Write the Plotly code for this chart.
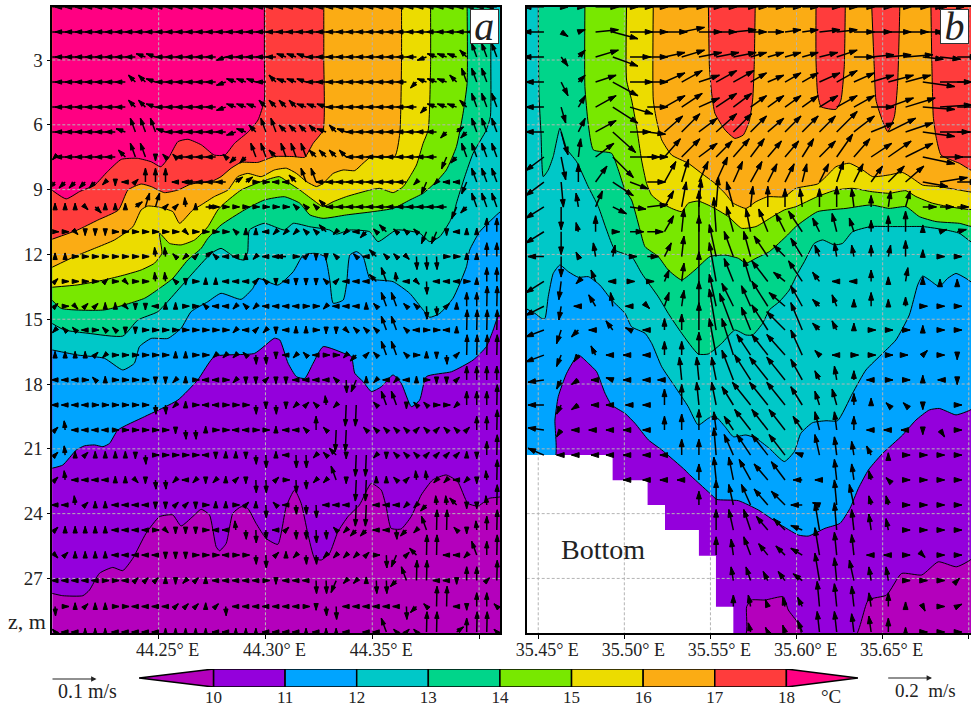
import math
import plotly.graph_objects as go

W_PX, H_PX = 971, 708
# ---------- axes ranges / ticks
Z_TOP, Z_BOT = 0.56, 29.54
A_RANGE = [44.2002, 44.4098]
B_RANGE = [35.4433, 35.7013]
Z_TICKS = [3, 6, 9, 12, 15, 18, 21, 24, 27]
A_TICKS = [44.25, 44.30, 44.35, 44.40]
A_LABELS = ["44.25° E", "44.30° E", "44.35° E", ""]
B_TICKS = [35.45, 35.50, 35.55, 35.60, 35.65, 35.70]
B_LABELS = ["35.45° E", "35.50° E", "35.55° E", "35.60° E", "35.65° E", ""]
LABEL_PAD = "\u00a0\u00a0\u00a0\u00a0"

TEMPS = [10, 11, 12, 13, 14, 15, 16, 17, 18]
COLORS = {9: "#b400bc", 10: "#9400dc", 11: "#00a4ff", 12: "#00c8c8", 13: "#00d58a",
          14: "#78e800", 15: "#ecdc00", 16: "#fbac14", 17: "#ff3c3c", 18: "#ff0082"}

# ---------- isotherms, panel a (lon, z)
A10 = [(44.2,27.69),(44.2051,27.8),(44.2145,27.8),(44.2176,27.54),(44.2223,26.76),(44.2285,26.49),(44.2332,26.64),(44.2379,26.07),(44.2441,24.91),(44.2504,24.14),(44.2566,24.06),(44.2605,24.57),(44.2659,24.14),(44.2699,23.8),(44.2738,24.06),(44.2769,25.53),(44.2785,25.72),(44.2816,25.38),(44.2847,23.99),(44.2886,23.68),(44.2917,23.76),(44.2956,24.45),(44.3003,25.15),(44.3058,25.42),(44.3097,23.68),(44.3136,22.91),(44.3167,23.52),(44.3198,24.91),(44.323,26.07),(44.3261,26.15),(44.33,25.84),(44.3339,24.84),(44.3386,24.14),(44.344,23.6),(44.3495,22.6),(44.3542,22.91),(44.3565,23.68),(44.3588,24.68),(44.3635,24.71),(44.3682,24.14),(44.3729,23.14),(44.3783,22.44),(44.3846,22.21),(44.39,22.52),(44.3947,23.52),(44.3994,23.65),(44.4049,23.29),(44.412,23.14)]
A11 = [(44.2,21.9),(44.2051,21.75),(44.2114,21.06),(44.2153,20.86),(44.22,20.82),(44.2239,20.9),(44.227,20.75),(44.2309,20.13),(44.2434,19.51),(44.259,18.74),(44.2683,17.81),(44.2761,16.73),(44.2949,16.58),(44.3042,15.88),(44.3067,15.96),(44.3106,17.04),(44.3145,17.66),(44.3184,17.74),(44.3223,17.04),(44.327,16.27),(44.3387,16.66),(44.3403,16.73),(44.3418,17.5),(44.3457,17.89),(44.3496,18.35),(44.3543,18.12),(44.3597,17.58),(44.3636,17.97),(44.3683,19.05),(44.3722,18.74),(44.3753,17.66),(44.3871,17.43),(44.3972,16.89),(44.4034,16.27),(44.4066,15.5),(44.4089,14.88),(44.412,14.7)]
A12 = [(44.2,16.42),(44.2122,16.66),(44.2246,16.81),(44.2332,17.35),(44.2386,17.04),(44.241,16.27),(44.2465,15.89),(44.2543,15.89),(44.2605,15.42),(44.2652,14.65),(44.273,14.19),(44.2792,13.8),(44.2886,14.08),(44.2941,13.57),(44.2964,13.11),(44.3058,13.42),(44.313,12.8),(44.3177,12.03),(44.3231,11.95),(44.3278,12.1),(44.3301,13.18),(44.3317,14.26),(44.3364,14.11),(44.338,13.34),(44.3395,12.03),(44.3426,11.87),(44.3457,12.1),(44.3488,13.11),(44.352,13.18),(44.3597,13.26),(44.3675,13.8),(44.3738,14.57),(44.3769,14.91),(44.3816,14.73),(44.3878,14.03),(44.3941,12.57),(44.3956,11.8),(44.4003,10.95),(44.4081,10.18),(44.412,9.8)]
A13 = [(44.2,15.19),(44.2059,15.5),(44.2169,15.65),(44.2332,15.78),(44.2402,15.04),(44.2496,14.65),(44.259,13.65),(44.2652,12.95),(44.2746,11.95),(44.2792,11.72),(44.2863,12.18),(44.2902,12.26),(44.2917,11.87),(44.2925,10.87),(44.2995,10.56),(44.3089,10.87),(44.313,10.56),(44.3208,10.72),(44.3301,10.87),(44.3332,11.06),(44.3395,10.87),(44.3488,10.95),(44.3527,11.41),(44.3613,10.87),(44.3722,11.02),(44.3769,11.41),(44.3816,11.18),(44.3863,10.48),(44.3886,9.94),(44.3894,9.63),(44.3933,8.4),(44.3972,7.32),(44.4034,6.24),(44.4053,5.62),(44.4055,3.0),(44.4055,0.4)]
A14 = [(44.2,14.11),(44.2044,14.5),(44.2246,14.57),(44.2434,14.03),(44.2504,13.57),(44.2566,13.11),(44.2636,12.26),(44.2699,11.72),(44.273,11.26),(44.2792,10.64),(44.2902,9.94),(44.2995,9.48),(44.3089,9.33),(44.3161,9.63),(44.3208,10.17),(44.327,10.33),(44.338,10.17),(44.3504,10.02),(44.3598,9.87),(44.3676,9.48),(44.3738,9.17),(44.38,8.63),(44.3847,8.09),(44.3894,7.01),(44.3925,5.47),(44.3944,4.08),(44.3944,0.4)]
A15 = [(44.2,13.52),(44.2122,13.41),(44.2246,13.18),(44.234,12.95),(44.2418,12.72),(44.248,12.41),(44.2515,11.95),(44.2504,11.02),(44.2551,11.49),(44.2605,11.56),(44.2668,11.33),(44.273,10.72),(44.2777,9.94),(44.2808,9.63),(44.2886,9.02),(44.298,8.63),(44.3065,8.4),(44.3114,8.71),(44.3161,9.02),(44.3223,9.48),(44.327,9.79),(44.3317,9.56),(44.338,9.32),(44.3489,9.02),(44.3535,8.94),(44.3598,9.14),(44.3645,8.86),(44.3676,8.4),(44.3707,7.86),(44.3738,6.86),(44.3762,6.24),(44.3773,3.31),(44.3773,0.4)]
A16 = [(44.2,12.6),(44.2106,12.1),(44.22,11.72),(44.2293,11.33),(44.2379,10.72),(44.2418,9.94),(44.2449,9.76),(44.2504,9.82),(44.2566,10.02),(44.2598,10.56),(44.266,9.94),(44.2699,9.71),(44.2761,9.32),(44.2824,9.02),(44.287,8.4),(44.2917,8.25),(44.298,8.4),(44.3042,8.09),(44.3098,8.01),(44.3145,8.25),(44.3192,8.63),(44.3239,8.86),(44.327,8.71),(44.3317,8.25),(44.3364,8.09),(44.3418,8.12),(44.3457,7.78),(44.3496,7.47),(44.3605,7.47),(44.3629,6.39),(44.3637,3.0),(44.3637,0.4)]
A17 = [(44.2,11.3),(44.212,10.87),(44.2215,10.41),(44.2312,9.94),(44.2356,9.02),(44.2418,8.74),(44.2465,8.86),(44.2527,9.14),(44.259,9.02),(44.2652,8.74),(44.2746,8.63),(44.2792,8.4),(44.2839,8.01),(44.2886,7.74),(44.2964,7.74),(44.3042,7.47),(44.313,7.47),(44.3184,7.5),(44.3223,6.86),(44.327,6.24),(44.3273,3.0),(44.3273,0.4)]
A18 = [(44.2,9.02),(44.2067,9.43),(44.213,9.09),(44.22,8.79),(44.226,8.17),(44.2325,7.6),(44.24,7.55),(44.2465,7.71),(44.251,7.94),(44.255,7.47),(44.259,6.78),(44.2637,6.67),(44.27,6.93),(44.276,7.4),(44.281,7.4),(44.2855,6.86),(44.292,6.32),(44.2965,5.78),(44.2995,4.85),(44.2995,3.0),(44.2995,0.4)]

# ---------- isotherms, panel b (lon, z)
B10 = [(35.44,29.7),(35.57,29.7),(35.571,28.31),(35.5739,28.0),(35.5817,28.0),(35.5923,27.85),(35.5952,28.46),(35.601,29.08),(35.6039,29.7),(35.6339,29.7),(35.6417,28.0),(35.6523,27.77),(35.661,26.77),(35.6727,26.84),(35.6823,26.23),(35.693,26.46),(35.705,25.84)]
B11 = [(35.44,21.4),(35.4597,21.4),(35.4597,19.67),(35.4616,18.59),(35.4665,17.5),(35.4733,16.66),(35.4791,17.04),(35.4839,17.43),(35.4888,18.43),(35.4926,18.97),(35.5004,19.36),(35.5062,19.82),(35.514,20.59),(35.5217,21.05),(35.5352,21.98),(35.5371,22.14),(35.5497,23.06),(35.5536,23.34),(35.5662,23.4),(35.5778,23.83),(35.5894,24.45),(35.601,24.99),(35.6068,25.04),(35.6165,24.68),(35.6252,24.45),(35.631,23.76),(35.6359,22.83),(35.6417,21.98),(35.6456,21.6),(35.65,21.21),(35.6616,20.36),(35.6693,19.67),(35.6771,19.2),(35.6829,19.13),(35.6877,19.28),(35.6926,19.43),(35.705,18.97)]
B12 = [(35.44,14.39),(35.4481,14.73),(35.452,14.96),(35.4539,14.96),(35.4558,13.96),(35.4587,12.88),(35.4626,12.49),(35.4675,12.8),(35.4733,13.06),(35.4791,13.03),(35.4858,13.42),(35.4926,14.11),(35.5004,14.73),(35.5042,15.35),(35.512,15.65),(35.5159,16.12),(35.5217,17.2),(35.5294,18.12),(35.5371,19.05),(35.5429,19.9),(35.5487,19.59),(35.5526,19.48),(35.5584,19.97),(35.5633,20.44),(35.5706,20.36),(35.5764,20.51),(35.5842,20.98),(35.5929,21.59),(35.5987,21.13),(35.6025,20.28),(35.6093,19.79),(35.6171,19.7),(35.6238,19.7),(35.6325,18.43),(35.6403,17.35),(35.65,16.58),(35.6577,15.96),(35.6655,14.8),(35.6703,13.42),(35.6732,13.0),(35.6771,13.18),(35.6829,13.49),(35.6877,13.11),(35.6926,12.88),(35.6984,13.11),(35.705,13.42)]
B13 = [(35.45,0.4),(35.4504,4.54),(35.4516,6.39),(35.4529,8.4),(35.4558,8.09),(35.4587,7.47),(35.4626,6.16),(35.4655,7.01),(35.4723,7.71),(35.479,8.86),(35.4849,9.79),(35.4897,10.87),(35.4946,11.8),(35.5042,12.1),(35.5101,12.88),(35.5197,13.96),(35.5255,14.73),(35.5333,15.65),(35.5429,16.61),(35.5487,16.61),(35.5565,16.12),(35.5642,15.5),(35.5706,15.73),(35.5745,15.73),(35.5803,15.19),(35.5842,14.57),(35.59,14.19),(35.5958,13.65),(35.6006,12.88),(35.6045,12.34),(35.6103,11.49),(35.6151,11.33),(35.6219,11.56),(35.6267,11.49),(35.6325,10.95),(35.6432,10.71),(35.6538,10.71),(35.6635,10.71),(35.6732,10.71),(35.6868,10.87),(35.6945,11.02),(35.705,11.56)]
B14 = [(35.4771,0.4),(35.4771,4.23),(35.479,5.93),(35.482,7.16),(35.4926,7.32),(35.4965,8.09),(35.5004,9.02),(35.5042,9.48),(35.5091,10.87),(35.512,11.64),(35.5197,12.1),(35.5255,12.72),(35.5333,13.18),(35.541,12.72),(35.5497,12.1),(35.5584,12.03),(35.5662,12.18),(35.5706,12.41),(35.5764,12.18),(35.5842,11.87),(35.5948,11.1),(35.5996,10.71),(35.6122,10.02),(35.6287,9.87),(35.6432,9.71),(35.6538,9.87),(35.6635,9.79),(35.6713,10.25),(35.681,10.48),(35.6945,10.56),(35.705,10.71)]
B15 = [(35.5013,0.4),(35.5013,3.93),(35.5042,4.85),(35.5071,6.09),(35.51,7.63),(35.5129,8.71),(35.5158,9.25),(35.5217,9.63),(35.5275,9.87),(35.5333,10.02),(35.5371,9.63),(35.5429,9.53),(35.5507,9.79),(35.5604,10.25),(35.5681,10.79),(35.5764,10.71),(35.5861,10.25),(35.5929,9.94),(35.5996,9.79),(35.6122,9.32),(35.6229,9.02),(35.6325,8.94),(35.6432,9.09),(35.6538,9.17),(35.6635,9.05),(35.6693,9.32),(35.679,9.63),(35.6887,9.79),(35.705,9.87)]
B16 = [(35.5168,0.4),(35.5168,4.85),(35.5187,5.78),(35.5217,6.7),(35.5275,7.4),(35.5371,7.78),(35.5449,8.25),(35.5526,8.71),(35.5584,9.17),(35.5633,9.63),(35.5706,9.87),(35.5764,9.56),(35.5832,9.33),(35.5929,9.33),(35.5996,8.94),(35.6122,8.74),(35.6171,8.4),(35.6229,7.94),(35.6306,7.78),(35.6384,8.09),(35.6442,8.4),(35.6538,8.32),(35.6616,8.21),(35.6674,8.48),(35.6732,8.79),(35.6829,8.86),(35.6945,9.02),(35.705,9.09)]
B17_1 = [(35.5488,0.4),(35.5494,3.31),(35.5507,4.54),(35.5526,5.47),(35.5585,6.24),(35.5642,6.63),(35.5691,6.47),(35.5725,5.85),(35.5745,4.85),(35.5754,3.31),(35.576,0.4)]
B17_2 = [(35.6113,0.4),(35.6113,3.0),(35.6122,4.54),(35.6142,5.16),(35.6229,5.28),(35.6258,4.85),(35.6277,3.31),(35.6283,0.4)]
B17_3 = [(35.6436,0.4),(35.6451,3.31),(35.6461,4.85),(35.649,5.62),(35.6529,6.32),(35.6568,5.62),(35.6587,4.08),(35.66,0.4)]
B17_4 = [(35.678,0.4),(35.6786,3.31),(35.6794,5.62),(35.681,6.55),(35.6839,7.4),(35.6945,7.78),(35.705,8.2)]

BOTTOM_LON = [35.44, 35.4932, 35.4932, 35.5135, 35.5135, 35.5236, 35.5236, 35.5433, 35.5433, 35.5532, 35.5532, 35.5633, 35.5633, 35.44]
BOTTOM_Z = [21.29, 21.29, 22.45, 22.45, 23.6, 23.6, 24.76, 24.76, 25.95, 25.95, 28.31, 28.31, 29.7, 29.7]

# ---------- velocity grid
ROW_Z = [0.55, 1.7, 2.86, 4.02, 5.18, 6.33, 7.49, 8.65, 9.8, 10.95, 12.1, 13.25, 14.4, 15.5, 16.66, 17.81, 18.97, 20.13, 21.29, 22.44, 23.6, 24.76, 25.92, 27.1, 28.3, 29.48]
A_COL0, A_COLSTEP = 44.2015, 0.0047
B_COL0, B_COLSTEP = 35.4433, 0.01

# Panel a: code -> (u, w) in mm/s
A_CODES = {'<':(-8,0),'>':(8,0),'^':(0,8),'v':(0,-8),'q':(-6,6),'p':(6,6),'b':(-6,-6),'d':(6,-6),
           'l':(-22,0),'r':(22,0),'h':(-20,7),'j':(-20,-7),'u':(-2,20),'n':(1,-20),'w':(-15,15),'e':(15,11),
           'z':(-13,-13),'c':(13,-13),'U':(0,30),'N':(1,-28),'W':(-11,30),'E':(9,30),'Z':(-11,-26),
           'T':(1,44),'V':(-2,-46)}
A_ROWS = [
 "lllllllllllllllllllllllllllllllllllllllllllll",
 "lllllllllllllllllllllllllllllllllllllllllllll",
 "lllllllllhhlllllljlllllhhhllllllllllljhhhwWWW",
 "llllllllwwhlllllljhhhlwhhhllllllllllzhhhwWWW",
 "llllllllwwhlllllljhhhwwwwhhhlllllllllzhhhwWWW",
 "lllllllhWWWhlllllljhwWWwwwwhwhlllllllllzezWWWW",
 "bllllllwWWvqqllllqzzWWwWWWwwwwlllllllllZzWWWWW",
 "zzzzzbv<pUUU<<llllee>><<wWWlllllllllbZb<<ZWWW",
 "^^^dc^^^eEEppu^r>>>>>>>>qqqwllllllllllllZzWWW",
 ">>dvvv>>>>>>>d>>>>q^^<bbbqqwbb<zqwqqqZZv<^^UU",
 "^^>>>>>>>>uuqbpeq<<^b<<l>pvvq.q<wqqdNNN>>^^UU",
 "p>>>>p>d>>uuqv>^^<<<pqv<vvvqp<<<wWu<dN<<<>^UU",
 "p>dpp^^dvv<^^>>q<<bqb<<<<>>b<<<^qWWqqNnp^UUTT",
 "bqq<>qqvv>>>>>>>>>b<pbv<^^>vvdqqqWWq<>><^TTTT",
 "^^^^pb>>>>>>^^>>bbbqnnv<bq<>>bzpqWWq>^vnpTTTT",
 "<<<>q^>>>>vvb^><<>bvvpvv<<<<qNZ^b<b<^>vvpUUUU",
 "<<<<>>>>>>nnb^><<>>>nvnvbpqubVV.qWWvqq>>bUUUT",
 "pu<<<<>>>>>>vnn^>><<>>^<<qUqVV.qqqqqpqpqqpUUT",
 "pu^p^^^^vn>>>>><v^^vnN^<NNbqwvVVbvqqqpppp^vUT",
 "pu<<<<^^dvnnb<bvb^pvNNp>NnbbWvVV^^qpuubb<bvuT",
 "<<up^^<<<<vvppv>^^>p^Nq<nnN<<<VV<<<bbzuuwvvuT",
 "p^^^^^<<<<>dvvv><<unNn<pnnNnqbzz<<nzbWTTqvuUT",
 "dp^^^^<<<<<vvv>>><>>nNp^bnnbbbbp>NZpwTT<<bWUT",
 "<<<<<>><ppp^vbp^<<<<<>v<<<NNZbb^NNzWTT<<vUUpT",
 "n>^p^^>><<<<ppp^pn<<<<<<<>vnN<<<<<<NzqTT<vUUq",
 "q<<^^^<<<<<^^^^^<<^^^<<<<^<^^<.<<WqpqTT.eUTTq",
]

# Panel b: u and w in cm/s for each grid node, row by row
B_U = [
 [0,-9,3,3,10,11,10,9,10,10,10,9,10,7,7,7,7,9,9,9,9,10,10,9,3,3],
 [0,-9,3,3,10,11,10,9,10,10,10,9,10,7,7,7,7,9,9,9,9,10,10,9,3,3],
 [0,-9,3,3,10,11,9,9,9,10,10,10,10,7,7,7,7,8,9,9,10,10,12,9,9,9],
 [0,-8,3,3,9,11,10,9,9,9,9,9,9,7,7,7,7,9,9,9,10,11,11,14,14,10],
 [0,-8,2,3,9,11,10,9,9,9,9,9,8,7,7,7,7,8,9,9,10,11,13,14,14,10],
 [0,-8,3,3,9,10,9,8,8,8,8,9,8,7,7,7,7,7,9,9,10,12,12,14,13,10],
 [0,-8,2,1,8,9,13,9,7,8,8,7,7,6,6,6,5,7,7,7,9,10,12,14,10,10],
 [0,-8,1,0,5,9,8,8,5,3,4,5,4,5,4,4,2,4,3,4,5,7,8,11,12,9],
 [0,-8,0,-1,3,6,7,9,4,2,1,1,-3,1,0,0,-1,0,0,-1,0,1,2,6,6,5],
 [0,-8,0,-1,0,3,6,7,4,1,0,-1,-3,-2,-4,-4,-6,-3,-2,-2,0,0,0,0,3,4],
 [0,-7,0,-1,-1,1,3,5,3,1,0,-3,-4,-3,-6,-5,-5,-2,-1,-1,0,1,0,0,2,2],
 [0,-8,-1,-1,-2,-2,2,3,2,1,0,-3,-4,-3,-7,-5,-6,-3,-2,-2,0,0,1,0,0,0],
 [0,-8,-1,-2,-3,-1,-2,1,2,1,0,-3,-5,-4,-7,-7,-5,-3,-2,0,0,0,0,2,2,2],
 [0,-8,-2,-3,-3,-3,-2,-2,0,0,0,-3,-6,-4,-7,-8,-5,-3,-2,0,2,2,2,0,2,2],
 [0,-8,-2,-2,-2,-3,-3,-2,0,0,0,-3,-5,-6,-7,-8,-5,-2,-2,2,2,2,1,2,2,0],
 [0,-7,-2,-3,-2,-3,-3,-2,-3,-1,-1,-2,-5,-7,-8,-8,-5,-2,-1,0,-2,2,2,0,-1,0],
 [0,-7,-2,-3,-2,-3,-2,-2,0,0,-1,-2,-5,-8,-8,-8,-5,-2,-2,0,0,-1,-1,0,0,2],
 [0,-7,-2,-3,-3,-3,-3,-2,0,0,0,-1,-4,-7,-7,-7,-4,-2,-1,0,-2,-2,-2,0,2,2],
 [0,-7,-2,-3,-2,-3,-3,-2,-2,0,0,-1,-4,-6,-7,-7,-3,-2,-1,-1,-2,0,2,2,2,2],
 [0,0,0,0,0,0,-3,-2,-2,-2,0,-1,-2,-5,-6,-6,-4,-2,-1,-1,-1,-1,2,2,2,2],
 [0,0,0,0,0,0,0,0,0,0,0,0,-2,-4,-6,-6,-5,-3,-1,-2,-1,-1,2,2,2,2],
 [0,0,0,0,0,0,0,0,0,0,0,0,-2,-3,-5,-5,-5,-2,-1,-1,-1,-1,2,2,2,2],
 [0,0,0,0,0,0,0,0,0,0,0,0,-1,-3,-4,-4,-5,-2,-1,-1,-2,-2,2,1,2,2],
 [0,0,0,0,0,0,0,0,0,0,0,0,-1,-2,-2,-3,-4,-2,-1,-2,-1,-1,2,2,2,1],
 [0,0,0,0,0,0,0,0,0,0,0,0,0,-1,-1,-1,-2,-1,-1,-1,-1,0,0,1,2,2],
 [0,0,0,0,0,0,0,0,0,0,0,0,0,-1,-1,-1,-2,-1,-1,-1,-1,0,0,2,2,2],
]
B_W = [
 [0]*26,
 [0,0,-2,1,1,-3,0,0,0,2,0,0,1,0,0,1,1,1,1,0,0,0,0,0,-1,0],
 [0,0,-4,3,3,-4,0,0,2,3,2,2,2,2,2,2,2,2,3,0,1,1,1,-1,-1,0],
 [0,0,-6,3,3,-6,0,0,4,5,3,5,5,4,3,4,4,4,5,4,3,3,3,-2,0,0],
 [0,0,-7,5,5,-7,-3,0,5,6,4,6,6,5,5,5,5,5,5,5,0,4,4,-1,1,0],
 [0,0,-10,6,5,-9,0,-1,7,8,6,8,8,7,6,7,7,7,9,7,4,6,4,-2,0,0],
 [0,-6,-10,8,6,-9,0,0,8,8,6,7,8,8,7,7,8,7,10,8,6,7,6,-3,0,0],
 [0,-6,-11,8,7,-6,-3,0,9,10,9,11,9,9,8,8,8,8,9,8,7,7,7,-2,2,0],
 [0,-5,-10,6,7,-3,-1,1,7,11,12,13,11,9,9,8,8,8,9,8,5,7,7,0,0,0],
 [0,-5,-10,4,7,0,0,0,7,10,18,15,11,10,10,8,9,6,8,6,5,7,9,3,1,1],
 [0,0,-9,2,6,5,0,0,6,9,18,14,11,11,9,5,8,5,6,5,5,5,7,3,0,0],
 [0,-5,-8,-1,5,0,0,0,5,8,13,17,10,10,9,4,9,4,0,0,5,2,6,2,1,1],
 [0,-4,-6,0,5,6,0,-1,6,7,11,14,10,9,11,6,9,3,5,3,6,3,4,0,0,0],
 [0,-3,-6,-3,0,4,1,0,5,7,12,18,16,10,11,8,12,3,4,3,0,0,0,2,0,0],
 [0,-3,-5,-3,4,0,0,0,6,6,10,16,16,9,9,9,11,2,0,0,0,0,0,2,0,-2],
 [0,-1,-4,-2,0,1,0,0,0,10,10,10,13,11,10,10,9,4,6,4,0,0,0,2,0,-2],
 [0,0,-4,-2,0,0,0,0,7,9,10,10,8,10,10,10,8,6,7,5,3,1,1,-2,0,0],
 [0,1,-3,0,0,0,0,0,6,7,9,8,6,9,9,9,6,8,8,6,0,0,0,-2,-3,0],
 [0,3,0,0,0,0,0,0,0,7,7,12,9,9,9,9,1,9,8,6,4,1,0,0,0,0],
 [0,0,0,0,0,0,0,0,0,0,7,10,10,9,7,8,0,0,9,7,4,1,0,0,0,0],
 [0,0,0,0,0,0,0,0,0,0,6,11,9,9,7,6,0,1,11,9,4,4,0,0,0,0],
 [0,0,0,0,0,0,0,0,0,0,0,9,9,9,6,5,2,12,12,9,7,5,0,0,0,0],
 [0,0,0,0,0,0,0,0,0,0,0,8,7,8,5,4,3,12,10,9,0,0,0,-1,0,0],
 [0,0,0,0,0,0,0,0,0,0,0,0,6,6,4,4,3,12,10,9,6,6,0,0,0,1],
 [0,0,0,0,0,0,0,0,0,0,0,0,5,5,3,4,4,11,10,9,6,6,2,-2,0,1],
 [0,0,0,0,0,0,0,0,0,0,0,0,0,4,2,3,5,9,9,8,7,6,2,0,0,0],
]

BAR_TICKS = [10, 11, 12, 13, 14, 15, 16, 17, 18]
BAR_RANGE = [8.96, 19.0]

# ---------- geometry of the two panels (in pixels of the page)
A_PX = (52.3, 500.0)
B_PX = (526.7, 971.0)
Y_PX = (7.3, 633.3)
def dom_x(p): return [p[0] / W_PX, min(p[1] / W_PX, 1)]

fig = go.Figure()

def poly(x, y, color, xa, ya, line=1.0, lc="black", shape="spline"):
    fig.add_trace(go.Scatter(x=x, y=y, xaxis=xa, yaxis=ya, mode="lines", fill="toself",
                             fillcolor=color, hoverinfo="skip", showlegend=False,
                             line=dict(color=lc, width=line, shape=shape, smoothing=0.5)))

def iso(points, temp, xa, ya):
    xs = [p[0] for p in points]
    zs = [p[1] for p in points]
    xs = xs + [xs[-1], xs[0]]
    zs = zs + [0.3, 0.3]
    poly(xs, zs, COLORS[temp], xa, ya)

# panel a
poly([44.19, 44.42, 44.42, 44.19], [30, 30, 0.3, 0.3], COLORS[9], "x", "y", line=0, lc=COLORS[9], shape="linear")
for t, pts in zip(TEMPS, [A10, A11, A12, A13, A14, A15, A16, A17, A18]):
    iso(pts, t, "x", "y")
# panel b
poly([35.43, 35.71, 35.71, 35.43], [30, 30, 0.3, 0.3], COLORS[9], "x2", "y2", line=0, lc=COLORS[9], shape="linear")
for t, pts in zip(TEMPS[:7], [B10, B11, B12, B13, B14, B15, B16]):
    iso(pts, t, "x2", "y2")
for pts in [B17_1, B17_2, B17_3, B17_4]:
    iso(pts, 17, "x2", "y2")
fig.add_trace(go.Scatter(x=BOTTOM_LON, y=BOTTOM_Z, xaxis="x2", yaxis="y2", mode="lines", fill="toself",
                         fillcolor="white", line=dict(width=0, color="white"), hoverinfo="skip", showlegend=False))

# grid on top of colour
GRID = dict(color="#b4b4b4", width=1, dash="3px,2px")
def grid(xticks, rng, xa, ya):
    gx, gy = [], []
    for t in xticks:
        gx += [t, t, None]; gy += [Z_TOP, Z_BOT, None]
    for z in Z_TICKS:
        gx += [rng[0], rng[1], None]; gy += [z, z, None]
    fig.add_trace(go.Scatter(x=gx, y=gy, xaxis=xa, yaxis=ya, mode="lines", line=GRID,
                             hoverinfo="skip", showlegend=False))
grid(A_TICKS, A_RANGE, "x", "y")
grid(B_TICKS, B_RANGE, "x2", "y2")

# arrows
def draw_arrows(segments, xa, ya, lon_per_px, z_per_px, head):
    lx, ly, tx, ty, ang = [], [], [], [], []
    for x0, z0, dx, dy in segments:
        x1 = x0 + dx * lon_per_px
        z1 = z0 - dy * z_per_px
        lx += [x0, x1, None]; ly += [z0, z1, None]
        tx.append(x1); ty.append(z1)
        ang.append(math.degrees(math.atan2(dx, dy)))
    fig.add_trace(go.Scatter(x=lx, y=ly, xaxis=xa, yaxis=ya, mode="lines",
                             line=dict(color="black", width=1.5), hoverinfo="skip", showlegend=False))
    fig.add_trace(go.Scatter(x=tx, y=ty, xaxis=xa, yaxis=ya, mode="markers",
                             marker=dict(symbol="arrow", size=head, angle=ang, color="black",
                                         line=dict(width=1, color="black")),
                             hoverinfo="skip", showlegend=False))

PX_PER_Z = (Y_PX[1] - Y_PX[0]) / (Z_BOT - Z_TOP)
A_PX_PER_LON = (A_PX[1] - A_PX[0]) / (A_RANGE[1] - A_RANGE[0])
B_PX_PER_LON = (B_PX[1] - B_PX[0]) / (B_RANGE[1] - B_RANGE[0])
A_SCALE = 46 / 100.0   # px per mm/s (0.1 m/s reference arrow)
B_SCALE = 45.6 / 20.0  # px per cm/s (0.2 m/s reference arrow)

segs = []
for z, row in zip(ROW_Z, A_ROWS):
    for i, c in enumerate(row):
        if c in A_CODES:
            u, w = A_CODES[c]
            segs.append((A_COL0 + i * A_COLSTEP, z, u * A_SCALE, w * A_SCALE))
draw_arrows(segs, "x", "y", 1 / A_PX_PER_LON, 1 / PX_PER_Z, 7)

segs = []
for z, ur, wr in zip(ROW_Z, B_U, B_W):
    for k, (u, w) in enumerate(zip(ur, wr)):
        if u or w:
            segs.append((B_COL0 + k * B_COLSTEP, z, u * B_SCALE, w * B_SCALE))
draw_arrows(segs, "x2", "y2", 1 / B_PX_PER_LON, 1 / PX_PER_Z, 8)

# colour bar
for t in BAR_TICKS[:-1]:
    poly([t, t + 1, t + 1, t, t], [0, 0, 1, 1, 0], COLORS[t], "x3", "y3", line=1.5, shape="linear")
poly([BAR_RANGE[0], 10, 10, BAR_RANGE[0]], [0.5, 1, 0, 0.5], COLORS[9], "x3", "y3", line=1.5, shape="linear")
poly([BAR_RANGE[1], 18, 18, BAR_RANGE[1]], [0.5, 1, 0, 0.5], COLORS[18], "x3", "y3", line=1.5, shape="linear")

FONT = "Liberation Serif"
TICKFONT = dict(family=FONT, size=18, color="#222222")
axis_common = dict(showgrid=False, zeroline=False, showline=True, mirror=True, automargin=False,
                   linecolor="black", linewidth=1.5, ticks="outside", ticklen=4,
                   tickcolor="black", tickfont=TICKFONT)
y_dom = [1 - Y_PX[1] / H_PX, 1 - Y_PX[0] / H_PX]

def label_box(text, x0, x1):
    return dict(xref="paper", yref="paper", x=(x0 + x1) / 2 / W_PX, y=1 - 26.3 / H_PX, text="<i>%s</i>" % text,
                xanchor="center", yanchor="middle",
                showarrow=False, font=dict(family=FONT, size=40, color="#222222"),
                bgcolor="white", bordercolor="#333333", borderwidth=1, width=x1 - x0, height=33, borderpad=0,
                align="center", valign="middle")

def paper_text(text, px, py, size):
    return dict(xref="paper", yref="paper", x=px / W_PX, y=1 - py / H_PX, text=text, showarrow=False,
                xanchor="center", yanchor="middle", borderpad=0,
                font=dict(family=FONT, size=size, color="#222222"))

def scale_arrow(x0, x1, py):
    return dict(xref="paper", yref="paper", x=x1 / W_PX, y=1 - py / H_PX, ax=x0 - x1, ay=0, text="",
                xanchor="center", yanchor="middle",
                showarrow=True, arrowhead=2, arrowsize=0.9, arrowwidth=1.2, arrowcolor="#222222")

fig.update_layout(
    width=W_PX, height=H_PX, margin=dict(l=0, r=0, t=0, b=0, autoexpand=False), paper_bgcolor="white", plot_bgcolor="white",
    showlegend=False,
    xaxis=dict(axis_common, domain=dom_x(A_PX), range=A_RANGE, anchor="y", tickvals=A_TICKS,
               ticktext=[LABEL_PAD + s if s else s for s in A_LABELS], ticklabelstandoff=-5),
    yaxis=dict(axis_common, domain=y_dom, range=[Z_BOT, Z_TOP], anchor="x", tickvals=Z_TICKS,
               ticktext=[str(z) for z in Z_TICKS], tickfont=dict(family=FONT, size=19, color="#222222")),
    xaxis2=dict(axis_common, domain=dom_x(B_PX), range=B_RANGE, anchor="y2", tickvals=B_TICKS,
                ticktext=[LABEL_PAD + s if s else s for s in B_LABELS], ticklabelstandoff=-5),
    yaxis2=dict(axis_common, domain=y_dom, range=[Z_BOT, Z_TOP], anchor="x2", ticks="", showticklabels=False),
    xaxis3=dict(showgrid=False, zeroline=False, showline=False, automargin=False, domain=[139 / W_PX, 858 / W_PX], range=BAR_RANGE,
                anchor="y3", tickvals=BAR_TICKS, ticktext=[str(t) for t in BAR_TICKS], ticks="", ticklabelstandoff=-2,
                tickfont=dict(family=FONT, size=17, color="#222222")),
    yaxis3=dict(visible=False, domain=[1 - 687 / H_PX, 1 - 669 / H_PX], range=[0, 1], anchor="x3", automargin=False),
    annotations=[
        label_box("a", 470.7, 497.3),
        label_box("b", 941, 968),
        paper_text("z, m", 27, 621, 22),
        paper_text("Bottom", 603, 549, 28),
        paper_text("0.1 m/s", 87, 691, 20),
        paper_text("0.2&#160; m/s", 925, 690, 19),
        paper_text("°C", 831, 696, 19),
        scale_arrow(51, 96.5, 679),
        scale_arrow(886.7, 932, 678),
    ],
)

fig.write_html("out.html", post_script="document.body.style.margin='0';document.body.style.overflow='hidden';",
               config={"displayModeBar": False})
